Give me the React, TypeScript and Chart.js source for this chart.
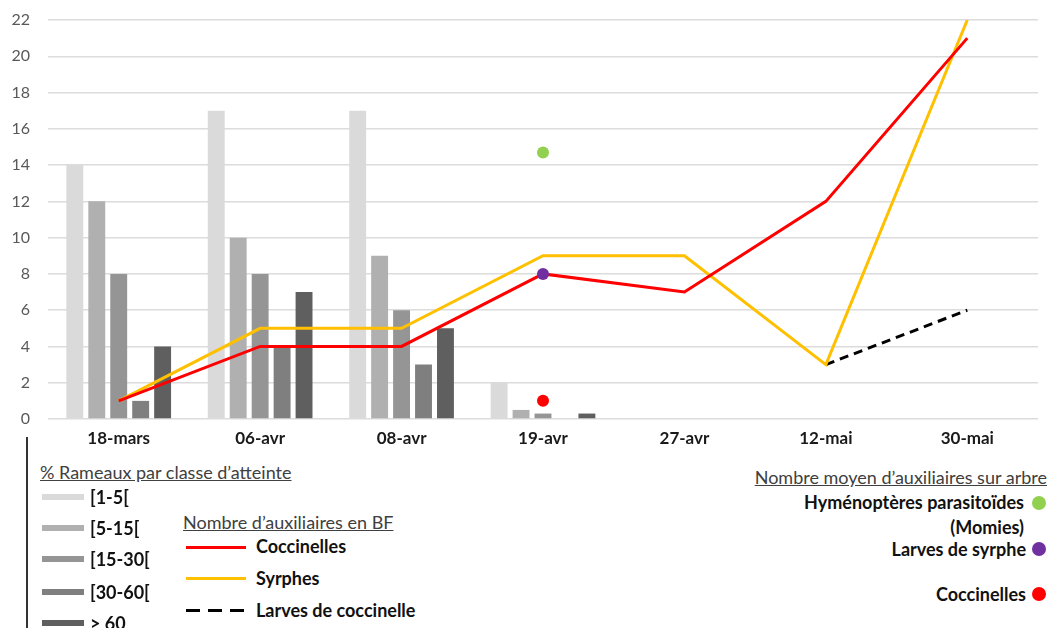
import React, { useEffect, useRef } from "react";
import { Chart, registerables } from "chart.js";

Chart.register(...registerables);

const categories = ["18-mars", "06-avr", "08-avr", "19-avr", "27-avr", "12-mai", "30-mai"];

const barLabels = ["[1-5[", "[5-15[", "[15-30[", "[30-60[", "> 60"];
const bar1 = [14, 17, 17, 2, null, null, null];
const bar2 = [12, 10, 9, 0.5, null, null, null];
const bar3 = [8, 8, 6, 0.3, null, null, null];
const bar4 = [1, 4, 3, 0, null, null, null];
const bar5 = [4, 7, 5, 0.3, null, null, null];
const barColors = ["#dadada", "#b0b0b0", "#959595", "#7f7f7f", "#5f5f5f"];

const coccinelles = [1, 4, 4, 8, 7, 12, 21];
const syrphes = [1, 5, 5, 9, 9, 3, 22];
const larvesCoccinelle = [null, null, null, null, null, 3, 6];

const hymenopteres = [null, null, null, 14.7, null, null, null];
const larvesSyrphe = [null, null, null, 8, null, null, null];
const coccinellesArbre = [null, null, null, 1, null, null, null];

const yTicks = [0, 2, 4, 6, 8, 10, 12, 14, 16, 18, 20, 22];

const FONT = "Lato, 'Open Sans', sans-serif";

function ChartCanvas() {
  const ref = useRef<HTMLCanvasElement | null>(null);
  useEffect(() => {
    if (!ref.current) return;
    const bars = [bar1, bar2, bar3, bar4, bar5];
    const chart = new Chart(ref.current, {
      type: "bar",
      data: {
        labels: categories,
        datasets: [
          ...bars.map((d, i) => ({
            type: "bar" as const,
            label: barLabels[i],
            data: d,
            backgroundColor: barColors[i],
            categoryPercentage: 0.776,
            barPercentage: 0.77,
            order: 3,
          })),
          {
            type: "line" as const,
            label: "Coccinelles",
            data: coccinelles,
            borderColor: "#ff0000",
            borderWidth: 3,
            pointRadius: 0,
            tension: 0,
            order: 2,
          },
          {
            type: "line" as const,
            label: "Syrphes",
            data: syrphes,
            borderColor: "#ffc000",
            borderWidth: 3,
            pointRadius: 0,
            tension: 0,
            order: 2,
          },
          {
            type: "line" as const,
            label: "Larves de coccinelle",
            data: larvesCoccinelle,
            borderColor: "#000000",
            borderWidth: 3,
            borderDash: [9, 6],
            pointRadius: 0,
            tension: 0,
            order: 2,
          },
          {
            type: "line" as const,
            label: "Hyménoptères parasitoïdes (Momies)",
            data: hymenopteres,
            showLine: false,
            pointRadius: 6,
            pointBackgroundColor: "#92d050",
            pointBorderWidth: 0,
            order: 1,
          },
          {
            type: "line" as const,
            label: "Larves de syrphe",
            data: larvesSyrphe,
            showLine: false,
            pointRadius: 6,
            pointBackgroundColor: "#7030a0",
            pointBorderWidth: 0,
            order: 1,
          },
          {
            type: "line" as const,
            label: "Coccinelles (arbre)",
            data: coccinellesArbre,
            showLine: false,
            pointRadius: 6,
            pointBackgroundColor: "#ff0000",
            pointBorderWidth: 0,
            order: 1,
          },
        ],
      },
      options: {
        animation: false,
        responsive: false,
        maintainAspectRatio: false,
        layout: { padding: { top: 20, right: 17, left: 0, bottom: 0 } },
        plugins: { legend: { display: false }, tooltip: { enabled: false } },
        scales: {
          x: {
            grid: { display: false, drawTicks: false },
            border: { display: false },
            ticks: {
              color: "#1a1a1a",
              font: { family: FONT, size: 17, weight: "bold" },
              padding: 9,
            },
            afterFit: (s: any) => {
              s.height = 41;
            },
          },
          y: {
            min: 0,
            max: 22,
            afterBuildTicks: (s: any) => {
              s.ticks = yTicks.map((v) => ({ value: v }));
            },
            grid: { color: "#dcdcdc", lineWidth: 1.5, drawTicks: false },
            border: { display: false },
            ticks: {
              color: "#595959",
              font: { family: FONT, size: 16 },
              padding: 18,
            },
            afterFit: (s: any) => {
              s.width = 48;
              s.paddingTop = 0;
              s.paddingBottom = 0;
            },
          },
        },
      },
    } as any);
    return () => chart.destroy();
  }, []);
  return <canvas ref={ref} width={1055} height={460} style={{ display: "block" }} />;
}

const txt = (
  left: number | null,
  right: number | null,
  cy: number,
  content: React.ReactNode,
  extra: React.CSSProperties = {}
) => (
  <div
    style={{
      position: "absolute",
      top: cy - 12,
      height: 24,
      lineHeight: "24px",
      whiteSpace: "nowrap",
      fontFamily: FONT,
      fontSize: 18,
      fontWeight: "bold",
      color: "#111",
      ...(left !== null ? { left } : {}),
      ...(right !== null ? { right: 1055 - right } : {}),
      ...extra,
    }}
  >
    {content}
  </div>
);

const header: React.CSSProperties = {
  fontWeight: "normal",
  textDecoration: "underline",
  color: "#404040",
  fontSize: 18,
};

const barSwatchY = [497, 528, 559, 592, 623];

const dot = (cx: number, cy: number, color: string) => (
  <div
    style={{
      position: "absolute",
      left: cx - 7,
      top: cy - 7,
      width: 14,
      height: 14,
      borderRadius: "50%",
      background: color,
    }}
  />
);

export default function App() {
  return (
    <div
      style={{
        position: "fixed",
        left: 0,
        top: 0,
        width: 1055,
        height: 628,
        background: "#fff",
        overflow: "hidden",
      }}
    >
      <ChartCanvas />
      <div style={{ position: "absolute", left: 26, top: 437, width: 2, height: 191, background: "#333" }} />
      {txt(40, null, 472, "% Rameaux par classe d’atteinte", header)}
      {barLabels.map((l, i) => (
        <React.Fragment key={l}>
          <div
            style={{
              position: "absolute",
              left: 42,
              top: barSwatchY[i] - 3,
              width: 42,
              height: 6,
              background: barColors[i],
            }}
          />
          {txt(90, null, barSwatchY[i], l)}
        </React.Fragment>
      ))}
      {txt(183, null, 522, "Nombre d’auxiliaires en BF", header)}
      <div style={{ position: "absolute", left: 186, top: 546, width: 60, height: 3, background: "#ff0000" }} />
      {txt(256, null, 546, "Coccinelles")}
      <div style={{ position: "absolute", left: 186, top: 577, width: 60, height: 3, background: "#ffc000" }} />
      {txt(256, null, 578, "Syrphes")}
      <div
        style={{
          position: "absolute",
          left: 186,
          top: 609,
          width: 60,
          height: 3,
          background: "repeating-linear-gradient(to right, #000 0 14px, transparent 14px 22px)",
        }}
      />
      {txt(256, null, 610, "Larves de coccinelle")}
      {txt(null, 1047, 477, "Nombre moyen d’auxiliaires sur arbre", header)}
      {txt(null, 1024, 502, "Hyménoptères parasitoïdes")}
      {dot(1039, 503, "#92d050")}
      {txt(null, 1024, 527, "(Momies)")}
      {txt(null, 1026, 549, "Larves de syrphe")}
      {dot(1039, 549, "#7030a0")}
      {txt(null, 1026, 594, "Coccinelles")}
      {dot(1039, 594, "#ff0000")}
    </div>
  );
}
